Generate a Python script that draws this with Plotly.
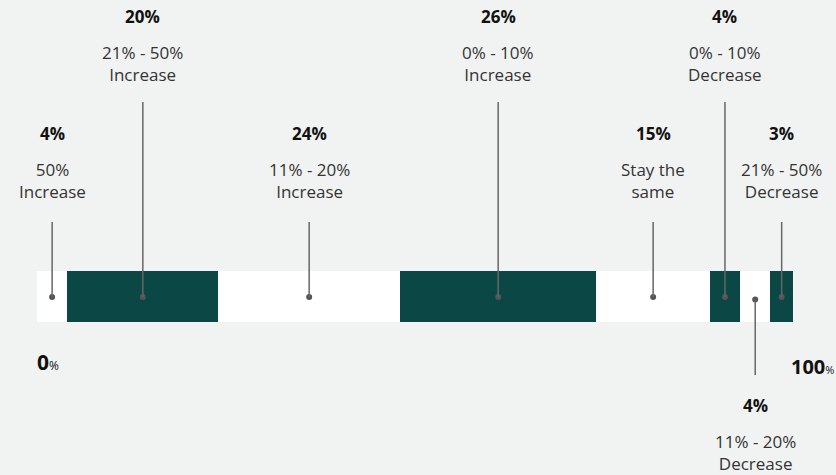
import plotly.graph_objects as go

# Share of respondents by expected change
categories = [
    "50%<br>Increase",
    "21% - 50%<br>Increase",
    "11% - 20%<br>Increase",
    "0% - 10%<br>Increase",
    "Stay the<br>same",
    "0% - 10%<br>Decrease",
    "11% - 20%<br>Decrease",
    "21% - 50%<br>Decrease",
]
values = [4, 20, 24, 26, 15, 4, 4, 3]
# label placement tier: "high", "mid" (above the bar) or "low" (below the bar)
tiers = ["mid", "high", "mid", "high", "mid", "high", "low", "mid"]

DARK = "#0b4745"
LIGHT = "#ffffff"
BG = "#f1f3f2"
LINE = "#666666"
FONT = "'Open Sans', Inter, sans-serif"

colors = [LIGHT if i % 2 == 0 else DARK for i in range(len(values))]

bases = []
acc = 0
for v in values:
    bases.append(acc)
    acc += v
centers = [b + v / 2 for b, v in zip(bases, values)]

BAR_Y = 296.5
BAR_H = 51

fig = go.Figure()
fig.add_trace(go.Bar(
    x=values, base=bases, y=[BAR_Y] * len(values), width=BAR_H,
    orientation="h", marker=dict(color=colors, line=dict(width=0)),
    hoverinfo="skip", showlegend=False,
))

# vertical layout of each tier: (line end, pct label y, category label y)
tier_pos = {
    "high": dict(line_end=102, pct_y=16, lab_y=63),
    "mid": dict(line_end=222, pct_y=133, lab_y=180),
    "low": dict(line_end=375, pct_y=405, lab_y=452),
}

dot_x, dot_y = [], []
for cat, v, cx, tier in zip(categories, values, centers, tiers):
    p = tier_pos[tier]
    dy = 299.5 if tier == "low" else 297
    dot_x.append(cx)
    dot_y.append(dy)
    fig.add_shape(type="line", x0=cx, x1=cx, y0=dy, y1=p["line_end"],
                  line=dict(color=LINE, width=1.5), layer="above")
    fig.add_annotation(x=cx, y=p["pct_y"], text=f"<b>{v}%</b>", showarrow=False,
                       font=dict(family=FONT, size=17, color="#111111"))
    fig.add_annotation(x=cx, y=p["lab_y"], text=cat, showarrow=False,
                       font=dict(family=FONT, size=17, color="#333333"))

fig.add_trace(go.Scatter(
    x=dot_x, y=dot_y, mode="markers",
    marker=dict(color="#555555", size=6), hoverinfo="skip", showlegend=False,
))

# scale end labels
fig.add_annotation(x=0, y=362, xanchor="left", showarrow=False, xshift=-2,
                   text="<b>0</b><span style='font-size:12px'>%</span>",
                   font=dict(family=FONT, size=21, color="#111111"))
fig.add_annotation(x=100, y=366, xanchor="left", showarrow=False, xshift=-4,
                   text="<b>100</b><span style='font-size:11px'>%</span>",
                   font=dict(family=FONT, size=20, color="#111111"))

fig.update_layout(
    width=836, height=475,
    margin=dict(l=37, r=43, t=0, b=0),
    paper_bgcolor=BG, plot_bgcolor=BG,
    barmode="overlay", bargap=0,
    xaxis=dict(range=[0, 100], visible=False, fixedrange=True),
    yaxis=dict(range=[475, 0], visible=False, fixedrange=True),
)

fig.write_html("out.html")
